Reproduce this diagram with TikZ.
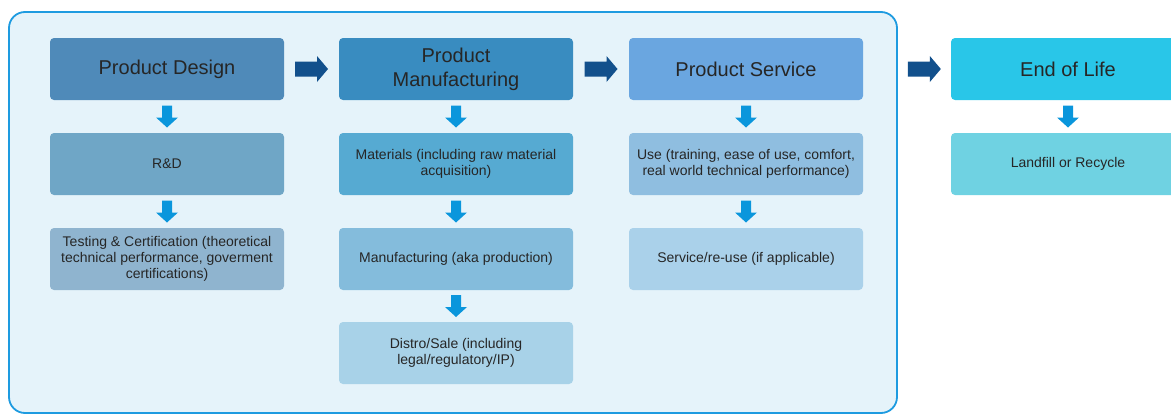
\documentclass[tikz,border=0pt]{standalone}
\usepackage{fontspec}
\setmainfont{Liberation Sans}
\usetikzlibrary{calc}
\definecolor{frameline}{HTML}{1E9BE0}
\definecolor{framefill}{HTML}{E5F3FA}
\definecolor{hA}{HTML}{4F8AB9}
\definecolor{hB}{HTML}{398CC0}
\definecolor{hC}{HTML}{6AA6E0}
\definecolor{hD}{HTML}{29C6E8}
\definecolor{sA1}{HTML}{6FA6C6}
\definecolor{sA2}{HTML}{8FB4CF}
\definecolor{sB1}{HTML}{56AAD2}
\definecolor{sB2}{HTML}{84BCDC}
\definecolor{sB3}{HTML}{A8D2E8}
\definecolor{sC1}{HTML}{8FBEE0}
\definecolor{sC2}{HTML}{AAD1EA}
\definecolor{sD1}{HTML}{6FD2E2}
\definecolor{darr}{HTML}{0A96DC}
\definecolor{rarr}{HTML}{12508C}
\definecolor{txt}{HTML}{262626}
\tikzset{
  frame/.style={draw=frameline, line width=1.8pt, fill=framefill, rounded corners=16pt,
    minimum width=888pt, minimum height=401pt, inner sep=0pt},
  headbox/.style={rounded corners=4pt, minimum width=234pt, minimum height=62pt,
    inner sep=0pt, align=center, text=txt,
    font=\fontsize{20}{24}\selectfont},
  subbox/.style={rounded corners=4pt, minimum width=234pt, minimum height=62pt,
    inner sep=0pt, align=center, text=txt,
    font=\fontsize{14}{16}\selectfont},
  downarr/.style={fill=darr},
  rightarr/.style={fill=rarr},
}
\newcommand{\DownArrowBetween}[2]{%
  \path ($(#1.south)!0.5!(#2.north)$) coordinate (dm);
  \fill[downarr] ($(dm)+(-5,-11)$) -- ($(dm)+(5,-11)$) -- ($(dm)+(5,1)$) -- ($(dm)+(11,1)$)
    -- ($(dm)+(0,11)$) -- ($(dm)+(-11,1)$) -- ($(dm)+(-5,1)$) -- cycle;}
\newcommand{\RightArrowBetween}[2]{%
  \path ($(#1.east)!0.5!(#2.west)$) coordinate (rm);
  \fill[rightarr] ($(rm)+(-16.5,-7.5)$) -- ($(rm)+(5.5,-7.5)$) -- ($(rm)+(5.5,-13)$)
    -- ($(rm)+(16.5,0)$) -- ($(rm)+(5.5,13)$) -- ($(rm)+(5.5,7.5)$) -- ($(rm)+(-16.5,7.5)$) -- cycle;}
\begin{document}
\begin{tikzpicture}[x=1pt,y=-1pt]
\useasboundingbox (0,0) rectangle (1171,415);
\clip (0,0) rectangle (1171,415);
\node[frame] (fr) at (453,212.5) {};
% headers
\node[headbox, fill=hA] (h1) at (167,69) {Product Design};
\node[headbox, fill=hB] (h2) at (456,69) {Product\\Manufacturing};
\node[headbox, fill=hC] (h3) at (746,69) {Product Service};
\node[headbox, fill=hD] (h4) at (1068,69) {End of Life};
% column 1
\node[subbox, fill=sA1] (a1) at (167,164) {R\&D};
\node[subbox, fill=sA2] (a2) at (167,259) {Testing \& Certification (theoretical\\technical performance, goverment\\certifications)};
% column 2
\node[subbox, fill=sB1] (b1) at (456,164) {Materials (including raw material\\acquisition)};
\node[subbox, fill=sB2] (b2) at (456,259) {Manufacturing (aka production)};
\node[subbox, fill=sB3] (b3) at (456,353) {Distro/Sale (including\\legal/regulatory/IP)};
% column 3
\node[subbox, fill=sC1] (c1) at (746,164) {Use (training, ease of use, comfort,\\real world technical performance)};
\node[subbox, fill=sC2] (c2) at (746,259) {Service/re-use (if applicable)};
% column 4
\node[subbox, fill=sD1] (d1) at (1068,164) {Landfill or Recycle};
% down arrows
\DownArrowBetween{h1}{a1}
\DownArrowBetween{a1}{a2}
\DownArrowBetween{h2}{b1}
\DownArrowBetween{b1}{b2}
\DownArrowBetween{b2}{b3}
\DownArrowBetween{h3}{c1}
\DownArrowBetween{c1}{c2}
\DownArrowBetween{h4}{d1}
% right arrows
\RightArrowBetween{h1}{h2}
\RightArrowBetween{h2}{h3}
\path (fr.east |- h3.east) coordinate (fre);
\RightArrowBetween{fre}{h4}
\end{tikzpicture}
\end{document}
